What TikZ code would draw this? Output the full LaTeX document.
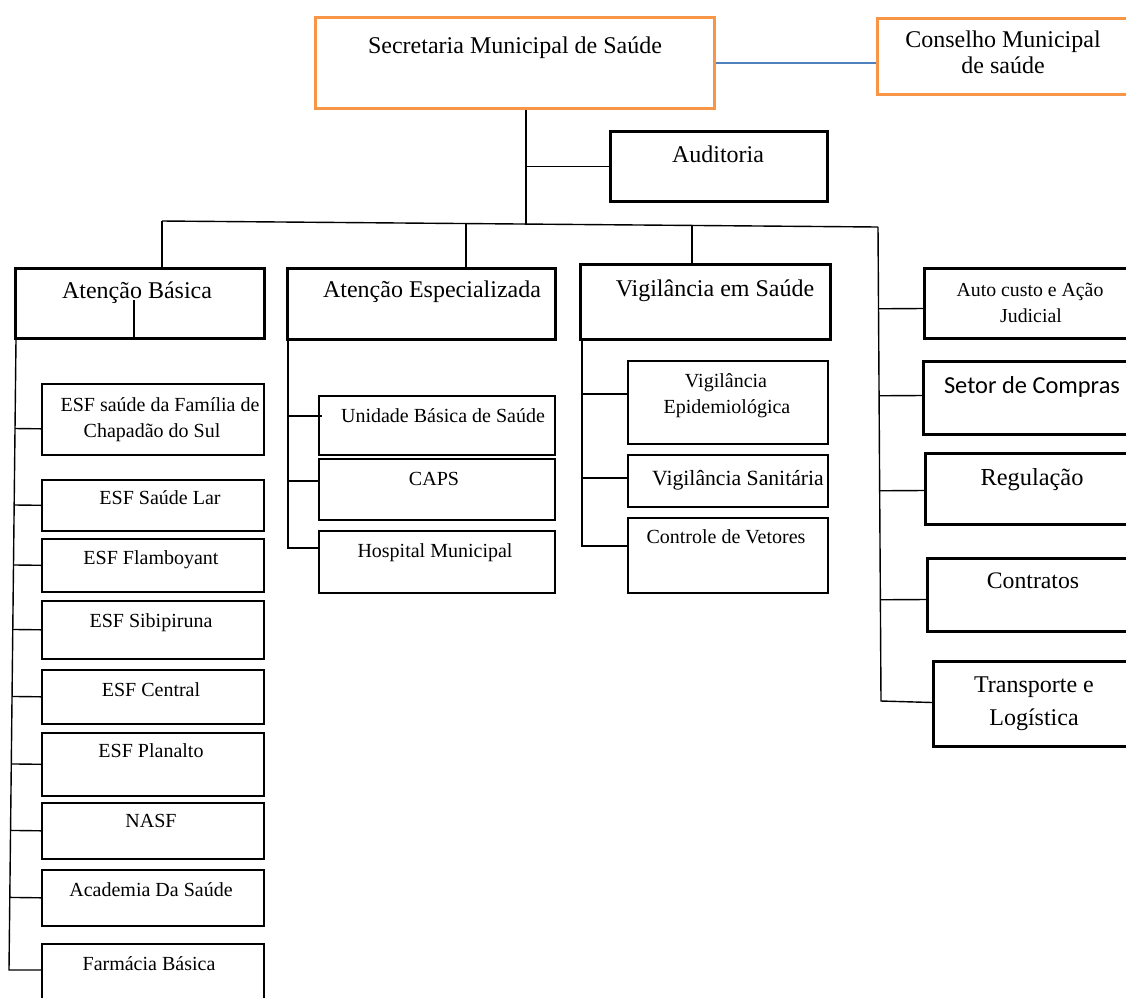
\documentclass[tikz,border=0pt]{standalone}
\usepackage{fontspec}
\setmainfont{Liberation Serif}
\newfontfamily\calib{Carlito}
\usetikzlibrary{calc}
\definecolor{orgline}{HTML}{F79646}
\definecolor{blueline}{HTML}{4F81BD}
\tikzset{
  orgbox/.style={draw=orgline, line width=3pt, inner sep=0pt, anchor=north west},
  thickbox/.style={draw=black, line width=3pt, inner sep=0pt, anchor=north west},
  thinbox/.style={draw=black, line width=1.6pt, inner sep=0pt, anchor=north west},
  conn/.style={draw=black, line width=1.4pt},
  bconn/.style={draw=blueline, line width=1.4pt},
  hd/.style={inner sep=0pt, anchor=base, font=\fontsize{24}{26}\selectfont},
  sub/.style={inner sep=0pt, anchor=base, font=\fontsize{20}{22}\selectfont},
}
\newcommand\mkbox[6]{\node[#1, minimum width=#4pt, minimum height=#5pt] (#6) at (#2,#3) {};}
\begin{document}
\begin{tikzpicture}[x=1pt,y=-1pt]
\useasboundingbox (0,0) rectangle (1126,997);
\clip (0,0) rectangle (1126,997);
% boxes
\mkbox{orgbox}{314}{16}{399}{91}{sec}
\mkbox{orgbox}{876}{17}{264}{76}{con}
\mkbox{thickbox}{609}{130}{217}{70}{aud}
\mkbox{thickbox}{14}{267}{249}{70}{ab}
\mkbox{thickbox}{286}{267}{268}{71}{ae}
\mkbox{thickbox}{579}{263}{250}{75}{vs}
\mkbox{thinbox}{41}{383}{222}{71}{c1}
\mkbox{thinbox}{41}{479}{222}{51}{c2}
\mkbox{thinbox}{41}{538}{222}{53}{c3}
\mkbox{thinbox}{41}{600}{222}{58}{c4}
\mkbox{thinbox}{41}{669}{222}{54}{c5}
\mkbox{thinbox}{41}{732}{222}{63}{c6}
\mkbox{thinbox}{41}{802}{222}{56}{c7}
\mkbox{thinbox}{41}{869}{222}{56}{c8}
\mkbox{thinbox}{41}{943}{222}{80}{c9}
\mkbox{thinbox}{318}{395}{236}{59}{e1}
\mkbox{thinbox}{318}{458}{236}{61}{e2}
\mkbox{thinbox}{318}{530}{236}{62}{e3}
\mkbox{thinbox}{627}{360}{200}{83}{v1}
\mkbox{thinbox}{627}{454}{200}{52}{v2}
\mkbox{thinbox}{627}{517}{200}{75}{v3}
\mkbox{thickbox}{923}{267}{217}{70}{r1}
\mkbox{thickbox}{922}{360}{218}{73}{r2}
\mkbox{thickbox}{924}{452}{216}{71}{r3}
\mkbox{thickbox}{926}{557}{214}{73}{r4}
\mkbox{thickbox}{932}{660}{208}{85}{r5}
% texts
\node[hd] (tsec) at (515,53) {Secretaria Municipal de Saúde};
\node[hd] (tcon1) at (1003,47) {Conselho Municipal};
\node[hd] (tcon2) at (1003,73) {de saúde};
\node[hd] (taud) at (718,162) {Auditoria};
\node[hd] (tab) at (137,298) {Atenção Básica};
\node[hd] (tae) at (432,297) {Atenção Especializada};
\node[hd] (tvs) at (715,296) {Vigilância em Saúde};
\node[sub] (tc1a) at (160,411) {ESF saúde da Família de};
\node[sub] (tc1b) at (152,437) {Chapadão do Sul};
\node[sub] (tc2) at (160,504) {ESF Saúde Lar};
\node[sub] (tc3) at (151,564) {ESF Flamboyant};
\node[sub] (tc4) at (151,627) {ESF Sibipiruna};
\node[sub] (tc5) at (151,696) {ESF Central};
\node[sub] (tc6) at (151,757) {ESF Planalto};
\node[sub] (tc7) at (151,827) {NASF};
\node[sub] (tc8) at (151,896) {Academia Da Saúde};
\node[sub] (tc9) at (149,970) {Farmácia Básica};
\node[sub] (te1) at (443,422) {Unidade Básica de Saúde};
\node[sub] (te2) at (434,485) {CAPS};
\node[sub] (te3) at (435,557) {Hospital Municipal};
\node[sub] (tv1a) at (726,387) {Vigilância};
\node[sub] (tv1b) at (727,413) {Epidemiológica};
\node[sub, font=\fontsize{21.7}{24}\selectfont] (tv2) at (738,485) {Vigilância Sanitária};
\node[sub] (tv3) at (726,543) {Controle de Vetores};
\node[sub, font=\fontsize{19.8}{22}\selectfont] (tr1a) at (1030,296) {Auto custo e Ação};
\node[sub, font=\fontsize{19.8}{22}\selectfont] (tr1b) at (1031,322) {Judicial};
\node[hd, font=\calib\fontsize{24.4}{27}\selectfont] (tr2) at (1032,393) {Setor de Compras};
\node[hd, font=\fontsize{24.4}{27}\selectfont] (tr3) at (1032,485) {Regulação};
\node[hd, font=\fontsize{23.7}{26}\selectfont] (tr4) at (1033,588) {Contratos};
\node[hd] (tr5a) at (1034,692) {Transporte e};
\node[hd] (tr5b) at (1034,725) {Logística};
% top connectors
\draw[bconn] (sec.east) -- (sec.east -| con.west);
\coordinate (secd) at (526,224);
\draw[conn] (secd |- sec.south) -- (secd);
\draw[conn] (secd |- aud.west) -- (aud.west);
\coordinate (busL) at (162,221);
\coordinate (busR) at (878,227);
\draw[conn] (busL) -- (busR);
\coordinate (d2) at (466,224);
\coordinate (d3) at (692,225);
\draw[conn] (busL) -- (busL |- ab.north);
\draw[conn] (d2) -- (d2 |- ae.north);
\draw[conn] (d3) -- (d3 |- vs.north);
% inner line of Atencao Basica
\coordinate (abin) at (134,300);
\draw[conn] (abin) -- (abin |- ab.south);
% Atencao Basica spine
\coordinate (absp) at ([xshift=2pt]ab.south west);
\coordinate (abspb) at (9,970);
\coordinate (c1p) at ([yshift=-9.5pt]c1.west);
\coordinate (c9p) at (41,970);
\draw[conn] (absp) -- (abspb) -- (c9p);
\draw[conn] ($(absp)!(c1p)!(abspb)$) -- (c1p);
\foreach \n in {c2,c3,c4,c5,c6,c7,c8}{
  \draw[conn] ($(absp)!(\n.west)!(abspb)$) -- (\n.west);
}
% Atencao Especializada spine
\coordinate (aesp) at ([xshift=2pt]ae.south west);
\coordinate (e1p) at ([xshift=4pt,yshift=9.5pt]e1.west);
\coordinate (e2p) at ([yshift=8.5pt]e2.west);
\coordinate (e3p) at ([yshift=14pt]e3.west);
\draw[conn] (aesp) -- (aesp |- e3p) -- (e3p);
\draw[conn] (aesp |- e1p) -- (e1p);
\draw[conn] (aesp |- e2p) -- (e2p);
% Vigilancia spine
\coordinate (vssp) at ([xshift=3pt]vs.south west);
\coordinate (v1p) at ([yshift=8.5pt]v1.west);
\coordinate (v2p) at ([yshift=3pt]v2.west);
\coordinate (v3p) at ([yshift=9.5pt]v3.west);
\draw[conn] (vssp) -- (vssp |- v3p) -- (v3p);
\draw[conn] (vssp |- v1p) -- (v1p);
\draw[conn] (vssp |- v2p) -- (v2p);
% right spine
\coordinate (rspb) at (881,701);
\coordinate (r1p) at ([yshift=-5pt]r1.west);
\coordinate (r2p) at ([yshift=2.5pt]r2.west);
\coordinate (r3p) at ([yshift=-1.5pt]r3.west);
\coordinate (r4p) at ([yshift=-4.5pt]r4.west);
\coordinate (r5p) at ([yshift=1.5pt]r5.west);
\draw[conn] (busR) -- (rspb) -- (r5p);
\foreach \n in {r1p,r2p,r3p,r4p}{
  \draw[conn] ($(busR)!(\n)!(rspb)$) -- (\n);
}
\end{tikzpicture}
\end{document}
